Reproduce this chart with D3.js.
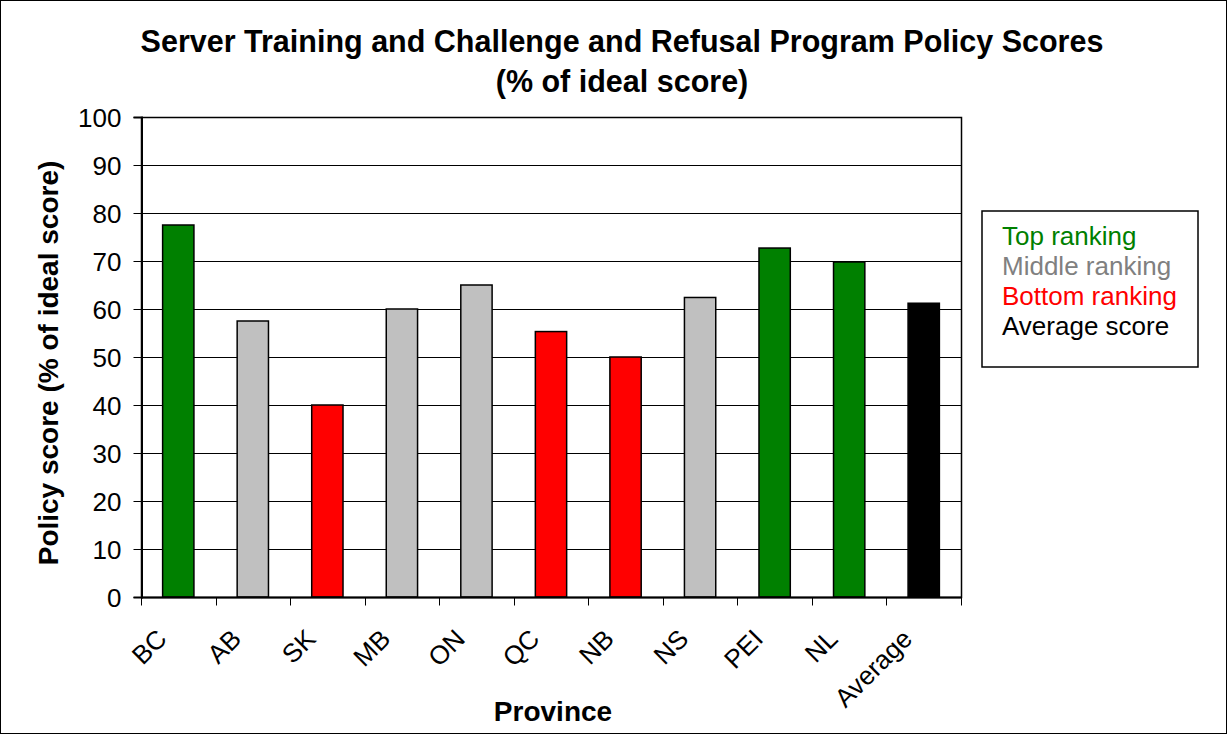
<!DOCTYPE html>
<html><head><meta charset="utf-8">
<script src="https://cdn.jsdelivr.net/npm/d3@7"></script>
<style>body{margin:0;background:#fff}svg{display:block}text{font-family:"Liberation Sans",Arial,sans-serif}</style>
</head><body>
<svg id="c" width="1227" height="734"></svg>
<script>
const categories = ["BC","AB","SK","MB","ON","QC","NB","NS","PEI","NL","Average"];
const values = [77.5,57.5,40,60,65,55.3,50,62.4,72.7,69.8,61.2];
const ranks = ["top","middle","bottom","middle","middle","bottom","bottom","middle","top","top","average"];
const yTicks = [0,10,20,30,40,50,60,70,80,90,100];
const legendLabels = ["Top ranking","Middle ranking","Bottom ranking","Average score"];
const legendKeys = ["top","middle","bottom","average"];
const fillColors = {top:"#008000",middle:"#c0c0c0",bottom:"#ff0000",average:"#000000"};
const textColors = {top:"#008000",middle:"#808080",bottom:"#ff0000",average:"#000000"};

const svg = d3.select("#c");
const W = 1227, H = 734;
const m = {l:141, r:961, t:117, b:597};

svg.append("rect").attr("x",0.5).attr("y",0.5).attr("width",W-1).attr("height",H-1)
  .attr("fill","#fff").attr("stroke","#000");

const x = d3.scaleBand().domain(categories).range([m.l,m.r]).paddingInner(0).paddingOuter(0);
const y = d3.scaleLinear().domain([0,100]).range([m.b,m.t]);

// gridlines
svg.append("g").selectAll("line").data(yTicks.filter(d=>d>0)).join("line")
  .attr("x1",m.l).attr("x2",m.r).attr("y1",d=>Math.round(y(d))+0.5).attr("y2",d=>Math.round(y(d))+0.5)
  .attr("stroke","#000").attr("stroke-width",1);

// plot border
svg.append("rect").attr("x",m.l+0.5).attr("y",Math.round(m.t)+0.5).attr("width",m.r-m.l).attr("height",m.b-m.t)
  .attr("fill","none").attr("stroke","#000").attr("stroke-width",1.5);

// bars
const bw = x.bandwidth()*0.42;
svg.append("g").selectAll("rect").data(categories).join("rect")
  .attr("x",(d)=>x(d)+(x.bandwidth()-bw)/2)
  .attr("y",(d,i)=>y(values[i]))
  .attr("width",bw)
  .attr("height",(d,i)=>y(0)-y(values[i]))
  .attr("fill",(d,i)=>fillColors[ranks[i]])
  .attr("stroke","#000").attr("stroke-width",1.5);

// y axis
const yAxis = d3.axisLeft(y).tickValues(yTicks).tickSize(8).tickPadding(12);
const gy = svg.append("g").attr("transform",`translate(${m.l+0.5},0)`).call(yAxis);
gy.select(".domain").attr("stroke","#000").attr("stroke-width",2);
gy.selectAll(".tick line").attr("stroke","#000");
gy.selectAll(".tick text").attr("font-size",26).attr("fill","#000").attr("dy","0.36em");

// x axis
const gx = svg.append("g").attr("transform",`translate(0,${m.b+0.5})`);
gx.append("line").attr("x1",m.l).attr("x2",m.r).attr("stroke","#000").attr("stroke-width",2);
const boundaries = categories.map(c=>x(c)).concat([m.r]);
gx.selectAll("line.tk").data(boundaries).join("line").attr("class","tk")
  .attr("x1",d=>Math.round(d)+0.5).attr("x2",d=>Math.round(d)+0.5).attr("y1",0).attr("y2",8)
  .attr("stroke","#000");
gx.selectAll("text.lab").data(categories).join("text").attr("class","lab")
  .attr("transform",d=>`translate(${x(d)+x.bandwidth()/2-10},${43}) rotate(-45)`)
  .attr("text-anchor","end").attr("font-size",26).attr("fill","#000").text(d=>d);

// titles
svg.append("text").attr("x",622).attr("y",52).attr("text-anchor","middle")
  .attr("font-size",30.5).attr("font-weight","bold").text("Server Training and Challenge and Refusal Program Policy Scores");
svg.append("text").attr("x",622).attr("y",92).attr("text-anchor","middle")
  .attr("font-size",30.5).attr("font-weight","bold").text("(% of ideal score)");

svg.append("text").attr("transform",`translate(58,${(m.t+m.b)/2+6}) rotate(-90)`).attr("text-anchor","middle")
  .attr("font-size",28).attr("font-weight","bold").text("Policy score (% of ideal score)");
svg.append("text").attr("x",(m.l+m.r)/2+2).attr("y",721).attr("text-anchor","middle")
  .attr("font-size",28).attr("font-weight","bold").text("Province");

// legend
const lg = svg.append("g");
lg.append("rect").attr("x",982).attr("y",211).attr("width",216).attr("height",156)
  .attr("fill","#fff").attr("stroke","#000").attr("stroke-width",1.5);
lg.selectAll("text").data(legendLabels).join("text")
  .attr("x",1002).attr("y",(d,i)=>245+i*30)
  .attr("font-size",26).attr("fill",(d,i)=>textColors[legendKeys[i]]).text(d=>d);
</script>
</body></html>
